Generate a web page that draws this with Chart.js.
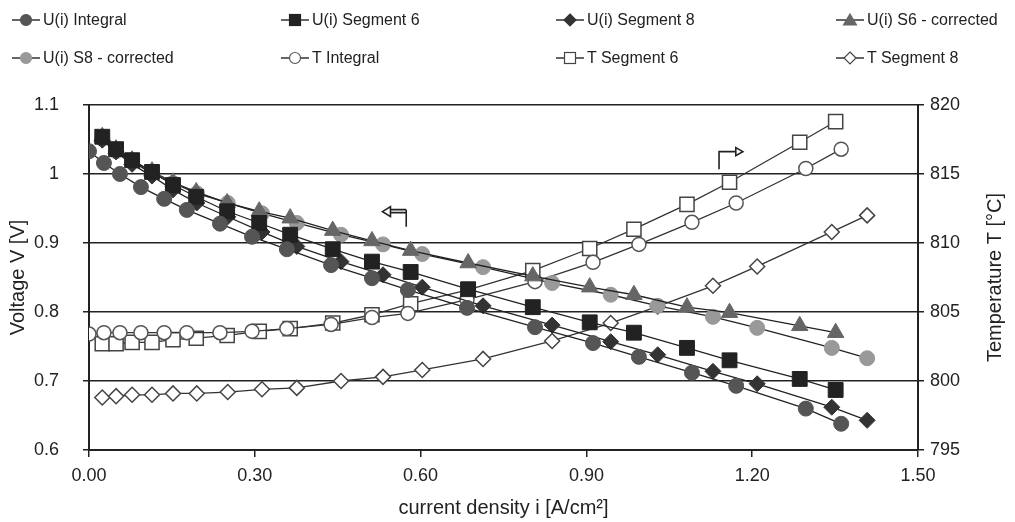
<!DOCTYPE html>
<html lang="en">
<head>
  <meta charset="UTF-8">
  <title>U(i) and T curves</title>
  <script src="https://cdn.jsdelivr.net/npm/chart.js"></script>
  <style>
    body { margin: 0; background: #fff; font-family: "Liberation Sans", Arial, sans-serif; }
    .wrap { position: relative; width: 1015px; height: 522px; }
    .legend { position: absolute; left: 0; top: 0; width: 1015px; height: 80px; }
    .item { position: absolute; display: flex; align-items: center; font-size: 16px; color: #222; white-space: nowrap; }
    .item svg { margin-right: 3px; }
  </style>
</head>
<body>
  <div class="wrap">
    <canvas id="chart" width="1015" height="522"></canvas>
    <div class="legend" id="legend"></div>
  </div>

  <script>
    // current density [A/cm2]
    const iIntegral = [0.000, 0.027, 0.056, 0.094, 0.136, 0.177, 0.237, 0.295, 0.358, 0.438, 0.512, 0.577, 0.684, 0.807, 0.912, 0.995, 1.091, 1.171, 1.297, 1.361];
    const iSeg6 = [0.024, 0.049, 0.078, 0.114, 0.152, 0.194, 0.250, 0.308, 0.364, 0.441, 0.512, 0.582, 0.686, 0.803, 0.906, 0.986, 1.082, 1.159, 1.286, 1.351];
    const iSeg8 = [0.024, 0.049, 0.078, 0.114, 0.152, 0.195, 0.251, 0.313, 0.376, 0.456, 0.532, 0.603, 0.713, 0.838, 0.944, 1.029, 1.129, 1.209, 1.344, 1.408];

    // voltages [V]
    const uIntegral = [1.033, 1.016, 1.000, 0.981, 0.964, 0.948, 0.928, 0.909, 0.891, 0.868, 0.849, 0.832, 0.806, 0.778, 0.755, 0.735, 0.712, 0.693, 0.660, 0.638];
    const uSeg6 = [1.054, 1.036, 1.020, 1.003, 0.984, 0.967, 0.946, 0.929, 0.912, 0.891, 0.873, 0.858, 0.833, 0.807, 0.785, 0.770, 0.748, 0.730, 0.703, 0.687];
    const uSeg8 = [1.049, 1.032, 1.014, 0.997, 0.977, 0.958, 0.938, 0.916, 0.895, 0.873, 0.854, 0.836, 0.809, 0.781, 0.757, 0.738, 0.714, 0.696, 0.662, 0.643];
    const uS6corr = [1.054, 1.036, 1.020, 1.004, 0.988, 0.974, 0.958, 0.946, 0.936, 0.918, 0.903, 0.889, 0.871, 0.852, 0.836, 0.825, 0.807, 0.799, 0.780, 0.770];
    const uS8corr = [1.051, 1.033, 1.018, 1.001, 0.987, 0.972, 0.958, 0.943, 0.929, 0.912, 0.898, 0.884, 0.865, 0.842, 0.825, 0.809, 0.793, 0.777, 0.748, 0.733];

    // temperatures [°C]
    const tIntegral = [803.4, 803.5, 803.5, 803.5, 803.5, 803.5, 803.5, 803.6, 803.8, 804.1, 804.6, 804.9, 805.9, 807.2, 808.6, 809.9, 811.5, 812.9, 815.4, 816.8];
    const tSeg6 = [802.7, 802.7, 802.8, 802.8, 803.0, 803.1, 803.3, 803.6, 803.8, 804.2, 804.8, 805.6, 806.6, 808.0, 809.6, 811.0, 812.8, 814.4, 817.3, 818.8];
    const tSeg8 = [798.8, 798.9, 799.0, 799.0, 799.1, 799.1, 799.2, 799.4, 799.5, 800.0, 800.3, 800.8, 801.6, 802.9, 804.2, 805.4, 806.9, 808.3, 810.8, 812.0];

    const FONT = '"Liberation Sans", Arial, sans-serif';
    const pts = (xs, ys) => xs.map((x, k) => ({ x: x, y: ys[k] }));

    const series = [
      { label: 'U(i) Integral', data: pts(iIntegral, uIntegral), axis: 'y', shape: 'circle', fill: '#555', stroke: '#555', r: 7.5, line: '#222' },
      { label: 'U(i) Segment 6', data: pts(iSeg6, uSeg6), axis: 'y', shape: 'rect', fill: '#222', stroke: '#222', r: 10.5, line: '#222' },
      { label: 'U(i) Segment 8', data: pts(iSeg8, uSeg8), axis: 'y', shape: 'rectRot', fill: '#333', stroke: '#333', r: 8, line: '#222' },
      { label: 'U(i) S6 - corrected', data: pts(iSeg6, uS6corr), axis: 'y', shape: 'triangle', fill: '#666', stroke: '#666', r: 9.5, line: '#222' },
      { label: 'U(i) S8 - corrected', data: pts(iSeg8, uS8corr), axis: 'y', shape: 'circle', fill: '#999', stroke: '#999', r: 7.5, line: '#222' },
      { label: 'T Integral', data: pts(iIntegral, tIntegral), axis: 'y2', shape: 'circle', fill: '#fff', stroke: '#555', r: 7, line: '#333' },
      { label: 'T Segment 6', data: pts(iSeg6, tSeg6), axis: 'y2', shape: 'rect', fill: '#fff', stroke: '#444', r: 10, line: '#333' },
      { label: 'T Segment 8', data: pts(iSeg8, tSeg8), axis: 'y2', shape: 'rectRot', fill: '#fff', stroke: '#444', r: 7.5, line: '#333' }
    ];

    // small arrows showing which axis belongs to which curves,
    // plus the right axis title written bottom-to-top like the left one
    const extras = {
      id: 'extras',
      afterDatasetsDraw(chart) {
        const { ctx, scales, chartArea } = chart;
        const x = scales.x, y = scales.y, y2 = scales.y2;
        ctx.save();
        ctx.strokeStyle = '#222';
        ctx.lineWidth = 1.6;

        // left arrow -> voltage axis
        let cx = x.getPixelForValue(0.574), cy = y.getPixelForValue(0.9454);
        let tip = x.getPixelForValue(0.531);
        ctx.beginPath();
        ctx.moveTo(cx, y.getPixelForValue(0.9236));
        ctx.lineTo(cx, cy - 2);
        ctx.moveTo(cx, cy - 2); ctx.lineTo(tip + 7, cy - 2);
        ctx.moveTo(cx, cy + 1); ctx.lineTo(tip + 7, cy + 1);
        ctx.stroke();
        ctx.beginPath();
        ctx.moveTo(tip, cy); ctx.lineTo(tip + 8, cy - 5); ctx.lineTo(tip + 8, cy + 5); ctx.closePath();
        ctx.fillStyle = '#fff'; ctx.fill(); ctx.stroke();

        // right arrow -> temperature axis
        cx = x.getPixelForValue(1.140); cy = y2.getPixelForValue(816.62);
        tip = x.getPixelForValue(1.183);
        ctx.beginPath();
        ctx.moveTo(cx, y2.getPixelForValue(815.34));
        ctx.lineTo(cx, cy);
        ctx.lineTo(tip - 7, cy);
        ctx.stroke();
        ctx.beginPath();
        ctx.moveTo(tip, cy); ctx.lineTo(tip - 7, cy - 4); ctx.lineTo(tip - 7, cy + 4); ctx.closePath();
        ctx.fillStyle = '#fff'; ctx.fill(); ctx.stroke();

        // right axis title
        ctx.translate(y2.right - 20, (chartArea.top + chartArea.bottom) / 2);
        ctx.rotate(-Math.PI / 2);
        ctx.font = '20px ' + FONT;
        ctx.fillStyle = '#222';
        ctx.textAlign = 'center';
        ctx.textBaseline = 'middle';
        ctx.fillText('Temperature T [°C]', 0, 0);
        ctx.restore();
      }
    };

    new Chart(document.getElementById('chart'), {
      type: 'line',
      data: {
        datasets: series.map(s => ({
          label: s.label,
          data: s.data,
          yAxisID: s.axis,
          borderColor: s.line,
          borderWidth: 1.3,
          pointStyle: s.shape,
          pointRadius: s.r,
          pointBackgroundColor: s.fill,
          pointBorderColor: s.stroke,
          pointBorderWidth: s.fill === '#fff' ? 1.5 : 1,
          tension: 0,
          fill: false
        }))
      },
      options: {
        responsive: false,
        animation: false,
        layout: { padding: { top: 105, left: 0, right: 0, bottom: 0 } },
        plugins: { legend: { display: false }, tooltip: { enabled: false } },
        scales: {
          x: {
            type: 'linear', min: 0, max: 1.5,
            afterFit: s => { s.height = 72; },
            ticks: { stepSize: 0.3, callback: v => v.toFixed(2), font: { family: FONT, size: 18 }, color: '#222', padding: 8 },
            grid: { drawOnChartArea: false, color: '#222', tickLength: 7, lineWidth: 1.5 },
            border: { color: '#222', width: 2 },
            title: { display: true, text: 'current density i [A/cm²]', font: { family: FONT, size: 20 }, color: '#222', padding: { top: 0, bottom: 2 } }
          },
          y: {
            position: 'left', min: 0.6, max: 1.1,
            afterFit: s => { s.width = 89; },
            ticks: { stepSize: 0.1, callback: v => String(parseFloat(v.toFixed(2))), font: { family: FONT, size: 18 }, color: '#222', padding: 24 },
            grid: { color: '#222', lineWidth: 1.5, tickLength: 6 },
            border: { color: '#222', width: 2 },
            title: { display: true, text: 'Voltage V [V]', font: { family: FONT, size: 20 }, color: '#222', padding: { top: 6, bottom: 0 } }
          },
          y2: {
            position: 'right', min: 795, max: 820,
            afterFit: s => { s.width = 97; },
            ticks: { stepSize: 5, font: { family: FONT, size: 18 }, color: '#222', padding: 6 },
            grid: { drawOnChartArea: false, color: '#222', lineWidth: 1.5, tickLength: 6 },
            border: { color: '#222', width: 2 },
            title: { display: false }
          }
        }
      },
      plugins: [extras]
    });

    // legend in two rows of four, like the original figure
    const marker = (s) => {
      let shape = '';
      const f = s.fill, st = s.stroke;
      if (s.shape === 'circle') shape = `<circle cx="14" cy="8" r="5.5" fill="${f}" stroke="${st}" stroke-width="1.2"/>`;
      if (s.shape === 'rect') shape = `<rect x="8.5" y="2.5" width="11" height="11" fill="${f}" stroke="${st}" stroke-width="1.2"/>`;
      if (s.shape === 'rectRot') shape = `<polygon points="14,2 20,8 14,14 8,8" fill="${f}" stroke="${st}" stroke-width="1.2"/>`;
      if (s.shape === 'triangle') shape = `<polygon points="14,2 20.5,13 7.5,13" fill="${f}" stroke="${st}" stroke-width="1.2"/>`;
      return `<svg width="28" height="16"><line x1="0" y1="8" x2="28" y2="8" stroke="#333" stroke-width="1.5"/>${shape}</svg>`;
    };
    const cols = [12, 281, 556, 836];
    const rows = [11, 49];
    const legend = document.getElementById('legend');
    series.forEach((s, k) => {
      const el = document.createElement('div');
      el.className = 'item';
      el.style.left = cols[k % 4] + 'px';
      el.style.top = rows[Math.floor(k / 4)] + 'px';
      el.innerHTML = marker(s) + '<span>' + s.label + '</span>';
      legend.appendChild(el);
    });
  </script>
</body>
</html>
